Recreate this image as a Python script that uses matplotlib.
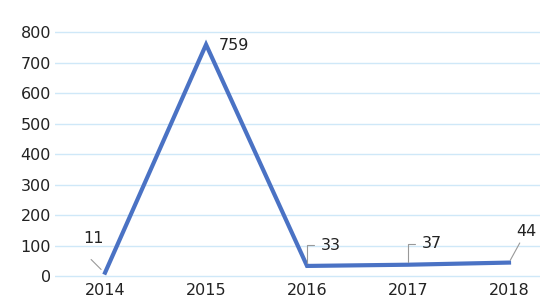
import matplotlib
matplotlib.use("Agg")
import matplotlib.pyplot as plt

years = [2014, 2015, 2016, 2017, 2018]
values = [11, 759, 33, 37, 44]
y_ticks = [0, 100, 200, 300, 400, 500, 600, 700, 800]

LINE = "#4a72c4"
GRID = "#cfe8f8"
TEXT = "#222222"

plt.rcParams['font.family'] = ['DejaVu Sans']

fig = plt.figure(figsize=(5.4, 3.02), dpi=100)
ax = fig.add_axes([0.102, 0.076, 0.898, 0.838])

ax.plot(years, values, color=LINE, linewidth=3, solid_joinstyle='miter', zorder=3)

ax.set_xlim(2013.505, 2018.307)
ax.set_ylim(-10, 820)
ax.set_yticks(y_ticks)
ax.set_xticks(years)
ax.tick_params(length=0, labelsize=11.5, colors=TEXT)
ax.tick_params(axis='y', pad=3)
ax.tick_params(axis='x', pad=3)
ax.grid(axis='y', color=GRID, linewidth=1)
ax.set_axisbelow(True)
for s in ax.spines.values():
    s.set_visible(False)

lead = dict(arrowstyle='-', color='#999999', lw=0.8)

# data labels
ax.annotate(str(values[1]), (years[1], values[1]), xytext=(9, -1),
            textcoords='offset points', fontsize=11.5, color=TEXT, va='center')
ax.annotate(str(values[0]), (years[0], values[0]), xytext=(-16, 19),
            textcoords='offset points', fontsize=11.5, color=TEXT, ha='left', va='bottom')
ax.annotate("", (years[0] - 0.02, values[0] + 4), xytext=(-10, 10),
            textcoords='offset points', arrowprops=lead)
for i in (2, 3):
    ax.annotate(str(values[i]), (years[i], values[i]), xytext=(10, 15),
                textcoords='offset points', fontsize=11.5, color=TEXT, va='center',
                arrowprops=dict(arrowstyle='-', color='#999999', lw=0.8,
                                connectionstyle='angle,angleA=0,angleB=90,rad=0',
                                shrinkA=3, shrinkB=2))
ax.annotate(str(values[4]), (years[4], values[4]), xytext=(5, 17),
            textcoords='offset points', fontsize=11.5, color=TEXT, va='bottom',
            arrowprops=dict(arrowstyle='-', color='#999999', lw=0.8, shrinkA=1, shrinkB=2))

fig.savefig("out.png", dpi=100)
